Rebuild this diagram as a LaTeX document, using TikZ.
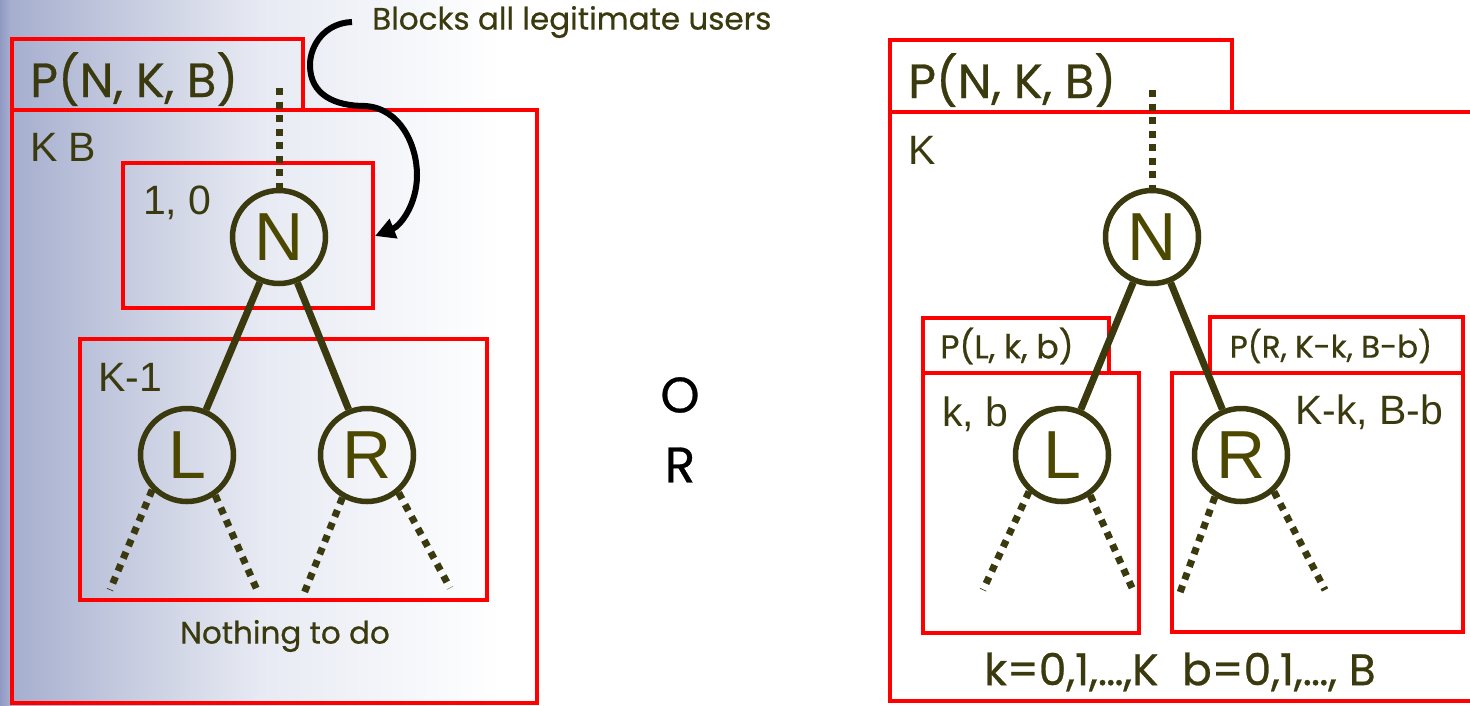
\documentclass[tikz,border=0pt]{standalone}
\usepackage{fontspec}
\setmainfont{Liberation Sans}
\newfontfamily\handfont{Poppins}[FakeBold=0.6]
\usetikzlibrary{arrows.meta}

\definecolor{boxred}{RGB}{255,0,0}
\definecolor{ink}{RGB}{58,58,14}
\definecolor{leaf}{RGB}{76,72,0}
\definecolor{fadeA}{RGB}{143,153,194}
\definecolor{fadeB}{RGB}{166,174,207}
\definecolor{fadeC}{RGB}{197,203,223}
\definecolor{fadeD}{RGB}{231,234,243}
% the shaded path is mapped onto 25bp--75bp
\pgfdeclarehorizontalshading{slidefade}{100bp}{color(0bp)=(fadeA); color(25bp)=(fadeA);
  color(26bp)=(fadeB); color(37.5bp)=(fadeC); color(51bp)=(fadeD);
  color(75bp)=(white); color(100bp)=(white)}

\tikzset{
  box/.style={draw=boxred, line width=4pt},
  vertex/.style={circle, draw=ink, line width=5.5pt, minimum size=93pt,
    inner sep=0pt, text=leaf, font=\fontsize{68}{68}\selectfont},
  branch/.style={draw=ink, line width=7pt},
  stub/.style={draw=ink, line width=7pt, dash pattern=on 7pt off 6.5pt},
  tag/.style={text=ink, anchor=base west, inner sep=0pt,
    font=\fontsize{41}{41}\selectfont},
  hand/.style={text=ink, inner sep=0pt, font=\handfont\fontsize{#1}{#1}\selectfont},
  hand/.default=31
}

\begin{document}
\begin{tikzpicture}[x=1pt, y=-1pt]
  \clip (0,0) rectangle (1470,705);
  \fill[white] (0,0) rectangle (1470,705);
  \shade[shading=slidefade] (0,0) rectangle (500,705);

  % left: node N is cut off
  \draw[box] (12,39) rectangle (303,110);
  \draw[box] (12,110) rectangle (537,703);
  \draw[box] (123,163) rectangle (373,308);
  \draw[box] (80,339) rectangle (487,600);

  \node (ptitle) [hand=48, anchor=base west] at (30,97) {P(N, K, B)};
  \node (kb) [tag] at (30,161) {K B};
  \node (ten) [tag] at (143,214) {1, 0};
  \node (km) [tag] at (98,391) {K-1};
  \node (none) [hand] at (285,636) {Nothing to do};
  \node (blocks) [hand, anchor=west] at (372,22) {Blocks all legitimate users};

  \node (n1) [vertex] at (279,237) {N};
  \node (l1) [vertex] at (187,455) {L};
  \node (r1) [vertex] at (367,455) {R};

  \coordinate (n1up) at (279,88);
  \coordinate (l1a) at (110,590);
  \coordinate (l1b) at (257,590);
  \coordinate (r1a) at (303,596);
  \coordinate (r1b) at (450,588);
  \coordinate (hit) at (375,236);

  \draw[stub] (n1up) -- (n1);
  \draw[branch] (n1) -- (l1);
  \draw[branch] (n1) -- (r1);
  \draw[stub] (l1.225) -- (l1a);
  \draw[stub] (l1.305) -- (l1b);
  \draw[stub] (r1.240) -- (r1a);
  \draw[stub] (r1.310) -- (r1b);

  \draw[line width=6pt, -{Triangle[length=20pt, width=20pt]}]
    ([xshift=-20pt]blocks.west) .. controls (325,23) and (310,45) .. (310,65)
    .. controls (310,95) and (335,106) .. (365,106)
    .. controls (400,108) and (417,145) .. (417,175)
    .. controls (417,205) and (400,226) .. (hit);

  \node (or) [hand=50, text=black] at (680,395) {O};
  \node (or2) [hand=50, text=black] at (680,465) {R};

  % right: N is split into L and R
  \draw[box] (890,40) rectangle (1232,112);
  \draw[box] (890,112) rectangle (1500,701);
  \draw[box] (923,318) rectangle (1109,373);
  \draw[box] (1210,317) rectangle (1463,373);
  \draw[box] (923,373) rectangle (1139,633);
  \draw[box] (1172,373) rectangle (1463,632);

  \node (qtitle) [hand=48, anchor=base west] at (908,98) {P(N, K, B)};
  \node (kk) [tag] at (908,164) {K};
  \node (pl) [hand=33] at (1007,346) {P(L, k, b)};
  \node (pr) [hand=31] at (1331,346) {P(R, K-k, B-b)};
  \node (kbl) [tag] at (942,426) {k, b};
  \node (kbr) [tag] at (1295,424) {K-k, B-b};
  \node (range) [hand=44] at (1180,672) {k=0,1,…,K\ \ b=0,1,…, B};

  \node (n2) [vertex] at (1152,237) {N};
  \node (l2) [vertex] at (1062,455) {L};
  \node (r2) [vertex] at (1241,455) {R};

  \coordinate (n2up) at (1152,90);
  \coordinate (l2a) at (983,590);
  \coordinate (l2b) at (1133,590);
  \coordinate (r2a) at (1178,598);
  \coordinate (r2b) at (1325,590);

  \draw[stub] (n2up) -- (n2);
  \draw[branch] (n2) -- (l2);
  \draw[branch] (n2) -- (r2);
  \draw[stub] (l2.228) -- (l2a);
  \draw[stub] (l2.305) -- (l2b);
  \draw[stub] (r2.238) -- (r2a);
  \draw[stub] (r2.312) -- (r2b);
\end{tikzpicture}
\end{document}
